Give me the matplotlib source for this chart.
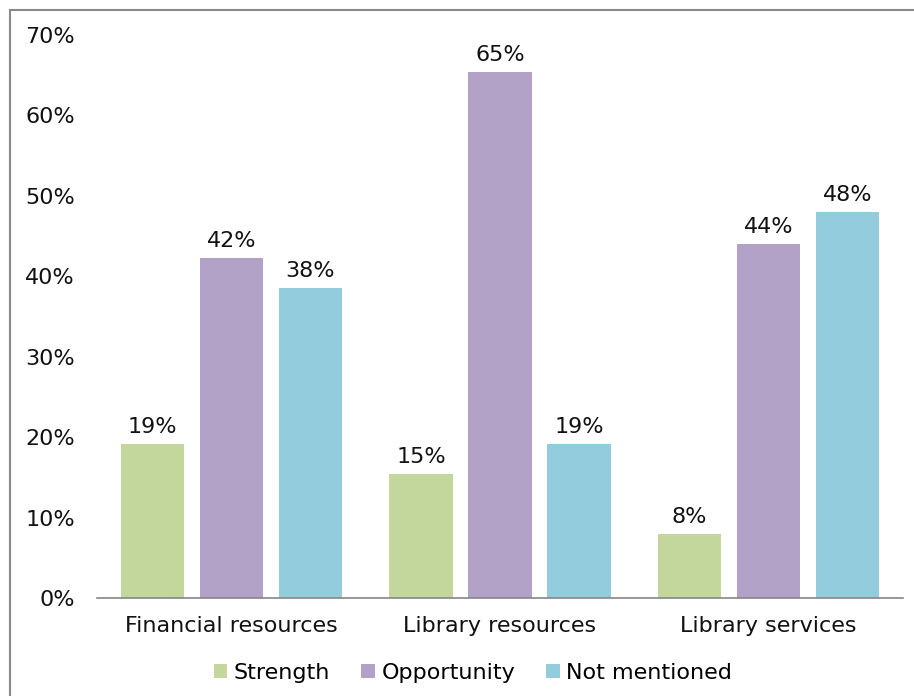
import numpy as np
import matplotlib.pyplot as plt
from matplotlib.patches import Rectangle
from matplotlib.ticker import PercentFormatter

categories = ['Financial resources', 'Library resources', 'Library services']
series_names = ['Strength', 'Opportunity', 'Not mentioned']
strength = [19.2, 15.4, 8.0]
opportunity = [42.3, 65.4, 44.0]
not_mentioned = [38.5, 19.2, 48.0]
colors = ['#C3D69B', '#B3A2C7', '#93CDDD']

plt.rcParams['font.family'] = 'DejaVu Sans'
fs = 16

fig = plt.figure(figsize=(9.14, 6.96), dpi=100)
ax = fig.add_axes([97 / 914, 98 / 696, 806 / 914, 563 / 696])

# gray outline around the chart area
fig.patches.append(Rectangle((10 / 914, -0.05), 1.0, 1 - 10 / 696 + 0.05,
                             transform=fig.transFigure, fill=False,
                             edgecolor='#898989', linewidth=1.5))

x = np.arange(len(categories))
pitch = 0.294
width = 0.236
for i, (vals, name) in enumerate(zip([strength, opportunity, not_mentioned], series_names)):
    bars = ax.bar(x + (i - 1) * pitch, vals, width, color=colors[i], label=name)
    for b, v in zip(bars, vals):
        ax.annotate(f'{v:.0f}%', (b.get_x() + b.get_width() / 2, v),
                    xytext=(0, 5), textcoords='offset points',
                    ha='center', va='bottom', fontsize=fs, color='#111111')

ax.set_xlim(-0.5, 2.5)
ax.set_ylim(0, 70)
ax.set_yticks(range(0, 71, 10))
ax.yaxis.set_major_formatter(PercentFormatter(decimals=0))
ax.set_xticks(x)
ax.set_xticklabels(categories)
ax.tick_params(axis='both', length=0, labelsize=fs, colors='#111111')
ax.tick_params(axis='x', pad=13)
ax.tick_params(axis='y', pad=16)
for s in ['top', 'right', 'left']:
    ax.spines[s].set_visible(False)
ax.spines['bottom'].set_color('#868686')
ax.spines['bottom'].set_linewidth(1.2)

fig.legend(loc='center', bbox_to_anchor=(473 / 914, 1 - 673 / 696), ncol=3,
           frameon=False, fontsize=fs, handlelength=0.6, handleheight=0.6,
           handletextpad=0.3, columnspacing=1.4)

fig.savefig('out.png', dpi=100)
